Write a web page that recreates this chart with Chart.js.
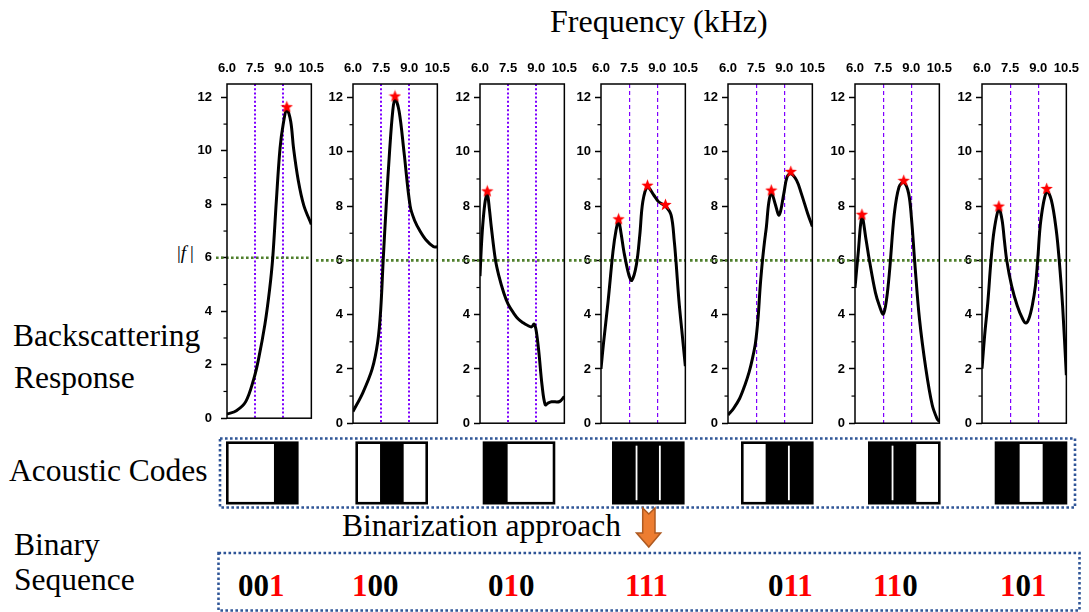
<!DOCTYPE html>
<html>
<head>
<meta charset="utf-8">
<script src="https://cdn.jsdelivr.net/npm/chart.js@4.4.1/dist/chart.umd.min.js"></script>
<style>
  html, body { margin:0; padding:0; background:#fff; }
  #stage { position:relative; width:1089px; height:612px; overflow:hidden; background:#fff;
           font-family:'Liberation Serif','Times New Roman',serif; }
  .lbl { position:absolute; white-space:nowrap; color:#000; font-size:31.5px; line-height:31.5px; }
  canvas { position:absolute; }
  svg { position:absolute; left:0; top:0; }
</style>
</head>
<body>
<div id="stage">
  <svg id="deco" width="1089" height="612"></svg>
  <div class="lbl" style="left:550px;top:5px;font-size:32px;line-height:32px">Frequency (kHz)</div>
  <div class="lbl" style="left:177px;top:243px;font-size:19px;line-height:19px">|<i>f</i>&thinsp;|</div>
  <div class="lbl" style="left:13px;top:320px">Backscattering</div>
  <div class="lbl" style="left:14px;top:362px">Response</div>
  <div class="lbl" style="left:9px;top:455px">Acoustic Codes</div>
  <div class="lbl" style="left:342px;top:510px">Binarization approach</div>
  <div class="lbl" style="left:14px;top:529px">Binary</div>
  <div class="lbl" style="left:14px;top:564px">Sequence</div>
  <div id="bits"></div>
</div>
<script>
// backscattering response |f| vs frequency (kHz), one panel per code
const freq1 = [6.0, 6.5, 7.0, 7.43, 7.68, 8.02, 8.27, 8.44, 8.63, 8.83, 9.0, 9.19, 9.4, 9.55, 9.8, 10.1, 10.5];
const resp1 = [0.15, 0.28, 0.62, 1.47, 2.2, 3.5, 4.8, 6.0, 8.1, 10.1, 11.0, 11.55, 11.1, 10.1, 8.9, 7.95, 7.25];
const freq2 = [6.0, 6.51, 7.02, 7.32, 7.48, 7.61, 7.77, 7.95, 8.12, 8.24, 8.46, 8.72, 9.05, 9.3, 9.56, 9.9, 10.3, 10.5];
const resp2 = [0.43, 1.1, 1.99, 3.0, 4.2, 6.0, 8.0, 10.0, 11.5, 11.95, 11.5, 10.0, 8.0, 7.45, 7.1, 6.75, 6.5, 6.5];
const freq3 = [6.0, 6.08, 6.17, 6.28, 6.39, 6.5, 6.6, 6.82, 7.0, 7.27, 7.5, 7.8, 8.04, 8.3, 8.55, 8.75, 8.89, 9.0, 9.14, 9.31, 9.48, 9.65, 9.82, 10.25, 10.5];
const resp3 = [5.42, 6.6, 7.5, 8.2, 8.45, 7.9, 7.25, 6.03, 5.45, 4.8, 4.39, 4.05, 3.84, 3.7, 3.6, 3.55, 3.65, 3.4, 2.62, 1.4, 0.68, 0.75, 0.79, 0.8, 0.98];
const freq4 = [6.0, 6.13, 6.38, 6.64, 6.8, 6.94, 7.07, 7.22, 7.48, 7.64, 7.89, 8.07, 8.23, 8.48, 8.82, 9.07, 9.44, 9.74, 9.91, 10.0, 10.16, 10.33, 10.5];
const resp4 = [2.0, 2.92, 4.5, 6.33, 7.1, 7.45, 7.0, 6.33, 5.48, 5.26, 5.85, 6.94, 8.16, 8.7, 8.4, 8.16, 8.0, 7.67, 6.7, 5.97, 4.5, 3.29, 2.1];
const freq5 = [6.0, 6.3, 6.62, 6.9, 7.13, 7.3, 7.47, 7.6, 7.72, 7.84, 7.95, 8.05, 8.17, 8.31, 8.51, 8.73, 8.98, 9.15, 9.35, 9.66, 9.91, 10.25, 10.5];
const resp5 = [0.3, 0.55, 0.91, 1.4, 1.89, 2.37, 2.98, 3.84, 5.06, 6.0, 6.7, 7.25, 8.1, 8.5, 8.1, 7.67, 8.47, 9.07, 9.2, 8.95, 8.47, 7.73, 7.25];
const freq6 = [6.0, 6.17, 6.37, 6.59, 6.76, 7.09, 7.3, 7.51, 7.68, 7.85, 8.1, 8.35, 8.6, 8.86, 9.02, 9.19, 9.44, 9.78, 10.12, 10.37, 10.5];
const resp6 = [4.99, 6.27, 7.6, 6.76, 6.03, 4.81, 4.33, 4.02, 4.55, 5.66, 7.73, 8.71, 8.88, 8.47, 7.49, 5.91, 3.84, 2.01, 0.67, 0.18, 0.06];
const freq7 = [6.0, 6.14, 6.31, 6.48, 6.65, 6.9, 7.07, 7.19, 7.32, 7.58, 7.88, 8.17, 8.34, 8.5, 8.68, 8.85, 8.97, 9.14, 9.45, 9.7, 9.96, 10.12, 10.3, 10.5];
const resp7 = [2.01, 3.23, 4.45, 6.0, 7.12, 7.9, 7.49, 6.76, 6.0, 5.06, 4.33, 3.84, 3.69, 3.85, 4.33, 5.06, 6.0, 7.49, 8.55, 8.22, 7.12, 6.0, 4.33, 1.77];

// marked peaks (red stars)
const peakF1 = [9.19], peakR1 = [11.65];
const peakF2 = [8.24], peakR2 = [12.06];
const peakF3 = [6.39], peakR3 = [8.56];
const peakF4 = [6.94, 8.48, 9.44], peakR4 = [7.53, 8.77, 8.06];
const peakF5 = [8.31, 9.35], peakR5 = [8.59, 9.28];
const peakF6 = [6.37, 8.6], peakR6 = [7.7, 8.95];
const peakF7 = [6.9, 9.45], peakR7 = [8.0, 8.65];

const markerFreqs = [7.5, 9.0];
const thresholdLevel = 6;

// acoustic codes and the binary sequence read from them
const codePatterns = [[0,0,1],[0,1,0],[1,0,0],[1,1,1],[0,1,1],[1,1,0],[1,0,1]];
const binaryLabels = ["001","100","010","111","011","110","101"];

// layout
const panelLeft = [227, 353, 480, 601, 728, 855, 982];
const PLOT_W = 89, AXIS_W = 42, PAD_R = 16, TOP = 55, CANVAS_H = 380;
const blockLeft = [227.3, 356.7, 484, 613.3, 742.3, 869.3, 996];
const labelLeft = [238, 352, 488, 625, 768, 873, 1000];

const PURPLE = "#7f00ff";
const panels = [
  { freq: freq1, resp: resp1, pf: peakF1, pr: peakR1, dotted: true },
  { freq: freq2, resp: resp2, pf: peakF2, pr: peakR2, dotted: true },
  { freq: freq3, resp: resp3, pf: peakF3, pr: peakR3, dotted: true },
  { freq: freq4, resp: resp4, pf: peakF4, pr: peakR4, dotted: false },
  { freq: freq5, resp: resp5, pf: peakF5, pr: peakR5, dotted: false },
  { freq: freq6, resp: resp6, pf: peakF6, pr: peakR6, dotted: false },
  { freq: freq7, resp: resp7, pf: peakF7, pr: peakR7, dotted: false }
];

function makeStar(size) {
  const c = document.createElement("canvas");
  c.width = size; c.height = size;
  const g = c.getContext("2d");
  const cx = size / 2, cy = size / 2 + 0.5, ro = size / 2, ri = ro * 0.42;
  g.beginPath();
  for (let k = 0; k < 10; k++) {
    const r = k % 2 ? ri : ro;
    const a = -Math.PI / 2 + k * Math.PI / 5;
    g.lineTo(cx + r * Math.cos(a), cy + r * Math.sin(a));
  }
  g.closePath();
  g.fillStyle = "#ff0000";
  g.fill();
  return c;
}
const starImg = makeStar(13);

const panelDeco = {
  id: "panelDeco",
  beforeDatasetsDraw(chart, args, opts) {
    const { ctx, chartArea, scales: { y } } = chart;
    const py = y.getPixelForValue(thresholdLevel);
    ctx.save();
    ctx.strokeStyle = "#4f7f2c";
    ctx.lineWidth = 2.6;
    ctx.setLineDash([2.6, 2.4]);
    ctx.beginPath();
    ctx.moveTo(chartArea.left - opts.lead, py);
    ctx.lineTo(chartArea.right + opts.tail, py);
    ctx.stroke();
    ctx.restore();
  },
  afterDatasetsDraw(chart) {
    const { ctx, chartArea, scales: { y } } = chart;
    ctx.save();
    ctx.strokeStyle = "#000";
    ctx.lineWidth = 1.5;
    ctx.strokeRect(chartArea.left, chartArea.top, chartArea.right - chartArea.left, chartArea.bottom - chartArea.top);
    ctx.lineWidth = 1.2;
    for (let v = 1; v < 12; v += 2) {
      const py = y.getPixelForValue(v);
      ctx.beginPath();
      ctx.moveTo(chartArea.left - 3.5, py);
      ctx.lineTo(chartArea.left, py);
      ctx.stroke();
    }
    ctx.restore();
  }
};

const tickFont = { family: "Arial, 'Liberation Sans', sans-serif", weight: "bold", size: 13 };

function makePanel(i) {
  const p = panels[i];
  const left = panelLeft[i];
  const canvas = document.createElement("canvas");
  canvas.width = AXIS_W + PLOT_W + PAD_R;
  canvas.height = CANVAS_H;
  canvas.style.left = (left - AXIS_W) + "px";
  canvas.style.top = TOP + "px";
  document.getElementById("stage").appendChild(canvas);

  const lead = i === 0 ? 11 : left - (panelLeft[i - 1] + PLOT_W);
  const tail = i === panels.length - 1 ? 4 : 0;

  new Chart(canvas, {
    type: "line",
    data: {
      datasets: [
        {
          data: p.pf.map((f, k) => ({ x: f, y: p.pr[k] })),
          showLine: false,
          pointStyle: starImg,
          pointRadius: 6,
          order: 0
        },
        {
          data: p.freq.map((f, k) => ({ x: f, y: p.resp[k] })),
          borderColor: "#000",
          borderWidth: 3,
          pointRadius: 0,
          tension: 0.35,
          fill: false,
          order: 1
        }
      ]
    },
    options: {
      responsive: false,
      animation: false,
      events: [],
      layout: { padding: { left: 0, right: PAD_R, top: 0, bottom: 8 } },
      plugins: {
        legend: { display: false },
        tooltip: { enabled: false },
        panelDeco: { lead, tail }
      },
      scales: {
        x: {
          type: "linear",
          position: "top",
          min: 6,
          max: 10.5,
          ticks: {
            stepSize: 1.5,
            autoSkip: false,
            maxRotation: 0,
            padding: 8,
            color: "#000",
            font: tickFont,
            callback: v => Number(v).toFixed(1)
          },
          grid: {
            drawTicks: false,
            lineWidth: p.dotted ? 2 : 1.2,
            color: ctx => markerFreqs.some(m => Math.abs(m - ctx.tick.value) < 1e-6) ? PURPLE : "rgba(0,0,0,0)"
          },
          border: { display: false, dash: p.dotted ? [2, 2.2] : [4, 3] },
          afterFit: s => { s.height = 29; }
        },
        y: {
          min: 0,
          max: 12.5,
          ticks: {
            stepSize: 2,
            includeBounds: false,
            padding: i === 0 ? 9 : 4,
            color: "#000",
            font: tickFont
          },
          grid: {
            drawOnChartArea: false,
            tickLength: 6,
            tickWidth: 1.5,
            tickColor: "#000"
          },
          border: { display: false },
          afterFit: s => { s.width = AXIS_W; }
        }
      }
    },
    plugins: [panelDeco]
  });
}

panels.forEach((p, i) => makePanel(i));

// boxes, code blocks, arrow
const NS = "http://www.w3.org/2000/svg";
const deco = document.getElementById("deco");
function svgEl(tag, attrs) {
  const e = document.createElementNS(NS, tag);
  Object.entries(attrs).forEach(([k, v]) => e.setAttribute(k, v));
  deco.appendChild(e);
  return e;
}
const BOX = { stroke: "#2f5597", "stroke-width": 2.6, "stroke-dasharray": "2.6 2.4", fill: "none" };
svgEl("rect", Object.assign({ x: 220, y: 438.5, width: 855, height: 69 }, BOX));
svgEl("rect", Object.assign({ x: 218.5, y: 553, width: 861, height: 57.5 }, BOX));

const BW = 70, BH = 60.5, BT = 442.7;
codePatterns.forEach((bits, i) => {
  const x0 = blockLeft[i];
  const sw = BW / 3;
  svgEl("rect", { x: x0, y: BT, width: BW, height: BH, fill: "#fff" });
  bits.forEach((b, k) => {
    if (b) svgEl("rect", { x: x0 + k * sw, y: BT, width: sw + 0.3, height: BH, fill: "#000" });
  });
  for (let k = 1; k < 3; k++) {
    if (bits[k - 1] && bits[k]) {
      svgEl("rect", { x: x0 + k * sw - 1, y: BT + 3, width: 1.8, height: BH - 6, fill: "#fff" });
    }
  }
  svgEl("rect", { x: x0, y: BT, width: BW, height: BH, fill: "none", stroke: "#000", "stroke-width": 2.6 });
});

svgEl("polygon", {
  points: "642.7,508 648.8,514 655,508 655,533 660.7,533 648.8,547 636.5,533 642.7,533",
  fill: "#ed7d31", stroke: "#ae5a21", "stroke-width": 1.5, "stroke-linejoin": "miter"
});

// binary sequence labels: ones in red
const bitsDiv = document.getElementById("bits");
binaryLabels.forEach((s, i) => {
  const d = document.createElement("div");
  d.className = "lbl";
  d.style.left = labelLeft[i] + "px";
  d.style.top = "570px";
  d.style.fontSize = "31px";
  d.style.lineHeight = "31px";
  d.style.fontWeight = "bold";
  d.innerHTML = s.split("").map(c => `<span style="color:${c === "1" ? "#ff0000" : "#000"}">${c}</span>`).join("");
  bitsDiv.appendChild(d);
});
</script>
</body>
</html>
